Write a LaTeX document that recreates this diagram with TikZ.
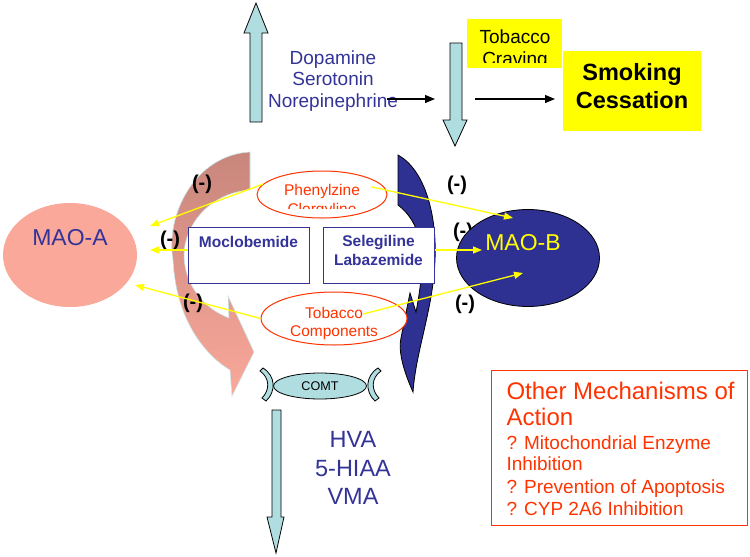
\documentclass[tikz,border=0pt]{standalone}
\usepackage{fontspec}
\setmainfont{Liberation Sans}
\usetikzlibrary{arrows.meta,positioning,shapes.geometric}
\definecolor{maoblue}{RGB}{51,51,153}
\definecolor{navy}{RGB}{46,49,146}
\definecolor{paleblue}{RGB}{176,221,224}
\definecolor{salmon}{RGB}{250,168,154}
\definecolor{rosy}{RGB}{200,134,124}
\definecolor{redorange}{RGB}{255,51,0}
\definecolor{brightyellow}{RGB}{255,255,0}

\begin{document}
\begin{tikzpicture}
[x=1pt,y=-1pt,
fatarrow/.style={fill=paleblue,draw=black,line width=0.8pt},
enzyme/.style={shape=ellipse,inner sep=0pt},
drug/.style={shape=ellipse,draw=redorange,fill=white,line width=1pt,inner sep=0pt},
drugtext/.style={text=redorange,font=\fontsize{15.5}{18.5}\selectfont,align=center},
drugbox/.style={draw=maoblue,fill=white,line width=1pt,inner sep=0pt,minimum height=56pt},
boxtext/.style={text=maoblue,font=\bfseries\fontsize{15.5}{19}\selectfont,align=center},
inhib/.style={font=\bfseries\fontsize{20}{22}\selectfont},
bigtext/.style={font=\fontsize{23.5}{28.5}\selectfont,align=center},
yarrow/.style={draw=brightyellow,line width=1.3pt,-{Triangle[length=9pt,width=7pt]}},
karrow/.style={line width=1.2pt,-{Triangle[length=10pt,width=8pt]}},
yellowbox/.style={fill=brightyellow,inner sep=0pt}]
\useasboundingbox (0,0) rectangle (750,557);
%% transmitter release and breakdown
\draw[fatarrow] (250,122) -- (250,33) -- (244,33) -- (256,3) -- (268,33) -- (262,33) -- (262,122) -- cycle;
\draw[fatarrow] (450,43) -- (450,120) -- (443,120) -- (455,146) -- (467,120) -- (462,120) -- (462,43) -- cycle;
\draw[fatarrow] (272,410) -- (272,517) -- (267,517) -- (276,553) -- (284,517) -- (281,517) -- (281,410) -- cycle;
\node (amines) [text=maoblue,font=\fontsize{19}{21.5}\selectfont,align=center] at (333,81) {Dopamine\\Serotonin\\Norepinephrine};
\node (metab) [text=maoblue,bigtext] at (353,468) {HVA\\5-HIAA\\VMA};
%% craving and cessation
\node (crave) [yellowbox,minimum width=95pt,minimum height=49pt] at (514.5,43.5) {};
\begin{scope}
\clip (467,19) rectangle (562,62.5);
\node (cravetext) [font=\fontsize{19}{21.5}\selectfont,align=center] at (515,49.5) {Tobacco\\Craving};
\end{scope}
\node (smoke) [yellowbox,minimum width=138pt,minimum height=80pt] at (632,91) {};
\node (smoketext) [font=\bfseries\fontsize{23.5}{28}\selectfont,align=center] at (632,86) {Smoking\\Cessation};
\coordinate (neuroOut) at (387,99);
\coordinate (craveIn) at (435,99);
\coordinate (craveOut) at (475,99);
\coordinate (smokeIn) at (555,99);
\draw[karrow] (neuroOut) -- (craveIn);
\draw[karrow] (craveOut) -- (smokeIn);
%% MAO-A and MAO-B cycles
\path[top color=rosy,middle color=rosy!60!salmon,bottom color=salmon,draw=paleblue!70,line width=0.6pt]
  (250,152) .. controls (195,155) and (165,215) .. (173,260)
  .. controls (176,320) and (205,355) .. (230,370)
  -- (232,396) -- (254,352) -- (228,296) -- (229,318)
  .. controls (195,305) and (180,272) .. (185,245)
  .. controls (192,212) and (220,192) .. (250,190) -- cycle;
\filldraw[fill=navy,draw=black,line width=0.8pt]
  (398,155) .. controls (425,170) and (437,215) .. (435,260)
  .. controls (433,310) and (416,350) .. (413,392)
  .. controls (404,372) and (398,352) .. (401,338)
  -- (410,293) -- (416,312)
  .. controls (424,270) and (428,228) .. (398,205) -- cycle;
%% COMT
\draw[fatarrow] (263,368) .. controls (276,376) and (276,392) .. (266,401) -- (262,398) .. controls (270,390) and (270,378) .. (260,371) -- cycle;
\draw[fatarrow] (378,368) .. controls (365,376) and (365,392) .. (375,401) -- (379,398) .. controls (371,390) and (371,378) .. (381,371) -- cycle;
\node (comt) [enzyme,fill=paleblue,draw=black,line width=0.8pt,minimum width=93pt,minimum height=26pt,font=\fontsize{12.6}{14}\selectfont] at (320,386) {COMT};
%% inhibitors
\node (phen) [drug,minimum width=130pt,minimum height=47pt] at (322,194.5) {};
\begin{scope}
\clip (250,160) rectangle (400,208);
\node (phentext) [drugtext] at (322,201) {Phenylzine\\Clorgyline};
\end{scope}
\node (tob) [drug,minimum width=146pt,minimum height=53pt] at (334,318.5) {};
\node (tobtext) [drugtext] at (334,323.5) {Tobacco\\Components};
\node (moclo) [drugbox,minimum width=121pt] at (248.5,255) {};
\node (moclotext) [boxtext] at (248.5,242) {Moclobemide};
\node (sele) [drugbox,minimum width=111pt] at (378.5,255) {};
\node (seletext) [boxtext] at (378.5,250.5) {Selegiline\\Labazemide};
\node (inA1) [inhib] at (202,184) {(-)};
\node (inA2) [inhib] at (170,240) {(-)};
\node (inA3) [inhib] at (193,303) {(-)};
\node (inB1) [inhib] at (457,185) {(-)};
\node (inB2) [inhib] at (463,232) {(-)};
\node (inB3) [inhib] at (465,304) {(-)};
%% enzymes
\node (maoa) [enzyme,fill=salmon,minimum width=134pt,minimum height=104pt] at (70,255) {};
\node (maoatext) [text=maoblue,font=\fontsize{23}{26}\selectfont] at (70,238) {MAO-A};
\node (maob) [enzyme,fill=navy,draw=black,line width=0.8pt,minimum width=143pt,minimum height=97pt] at (528,258) {};
\node (maobtext) [text=brightyellow,font=\fontsize{23}{26}\selectfont] at (523,243) {MAO-B};
%% inhibition arrows
\coordinate (aTop) at (150,226);
\coordinate (aMid) at (150,250);
\coordinate (aLow) at (135,285);
\coordinate (bTop) at (513,218);
\coordinate (bMid) at (482,250);
\coordinate (bLow) at (523,273);
\coordinate (phenR) at (372,187);
\coordinate (tobR) at (363,314);
\draw[yarrow] (phen.170) -- (aTop);
\draw[yarrow] ([yshift=5pt]moclo.west) -- (aMid);
\draw[yarrow] (tob.west) -- (aLow);
\draw[yarrow] (phenR) -- (bTop);
\draw[yarrow] ([yshift=5pt]sele.east) -- (bMid);
\draw[yarrow] (tobR) -- (bLow);
%% other mechanisms
\node (other) [draw=redorange,line width=1pt,minimum width=256pt,minimum height=155pt] at (619,447.5) {};
\node (otherhead1) [anchor=base west,text=redorange,font=\fontsize{24}{26}\selectfont] at (503,399) {Other Mechanisms of};
\node (otherhead2) [anchor=base west,text=redorange,font=\fontsize{24}{26}\selectfont] at (503,425) {Action};
\foreach \ln/\yy in {{? Mitochondrial Enzyme}/449,Inhibition/470,{? Prevention of Apoptosis}/493,{? CYP 2A6 Inhibition}/515}
  \node [anchor=base west,text=redorange,font=\fontsize{19}{21}\selectfont] at (503,\yy) {\ln};
\end{tikzpicture}
\end{document}
